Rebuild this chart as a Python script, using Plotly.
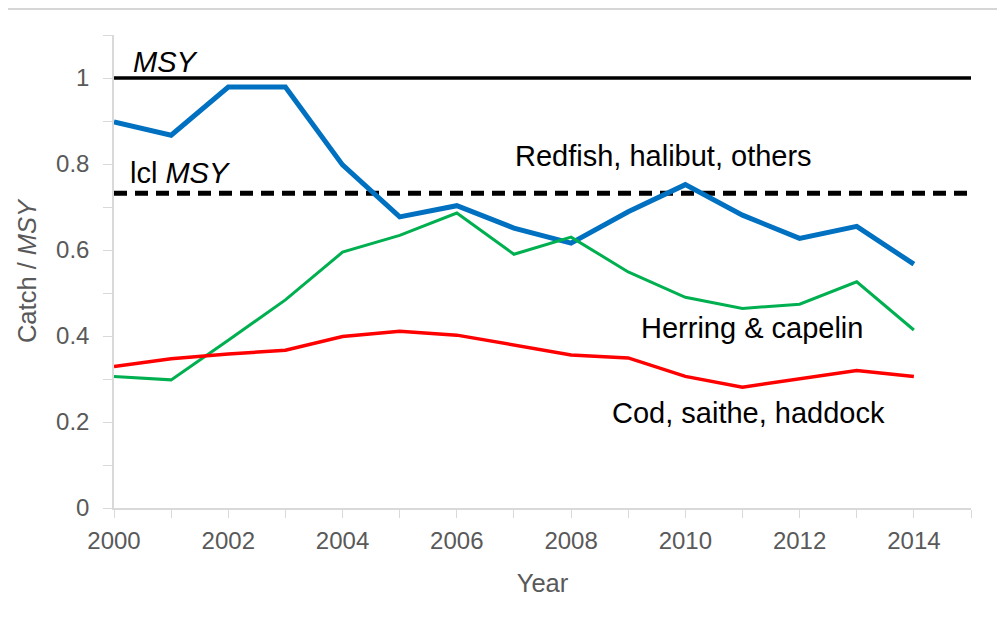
import plotly.graph_objects as go

# data (catch relative to MSY)
years = list(range(2000, 2015))
redfish_halibut_others = [0.898, 0.867, 0.979, 0.979, 0.798, 0.677, 0.703, 0.651, 0.616,
                          0.689, 0.752, 0.681, 0.627, 0.655, 0.567]
herring_capelin = [0.306, 0.298, 0.39, 0.484, 0.595, 0.634, 0.686, 0.59, 0.63,
                   0.549, 0.49, 0.464, 0.474, 0.526, 0.414]
cod_saithe_haddock = [0.329, 0.347, 0.358, 0.367, 0.399, 0.411, 0.402, 0.378, 0.356,
                      0.349, 0.306, 0.281, 0.3, 0.32, 0.306]

msy_level = 1.0
icl_msy_level = 0.732
ref_span = [2000, 2015]

x_tickvals = list(range(2000, 2016))
x_ticktext = [str(y) if y % 2 == 0 and y < 2015 else '' for y in x_tickvals]
y_tickvals = [i / 10 for i in range(0, 12)]
y_ticktext = ['0', '', '0.2', '', '0.4', '', '0.6', '', '0.8', '', '1', '']

FONT = 'Liberation Sans, Arial, sans-serif'
GREY = '#595959'
AXIS_GREY = '#d9d9d9'

fig = go.Figure()

# reference lines
fig.add_trace(go.Scatter(
    x=ref_span, y=[msy_level] * 2, mode='lines',
    line=dict(color='black', width=3.5), hoverinfo='skip'
))
fig.add_trace(go.Scatter(
    x=ref_span, y=[icl_msy_level] * 2, mode='lines',
    line=dict(color='black', width=5, dash='13px,8px'), hoverinfo='skip'
))

# series
fig.add_trace(go.Scatter(
    x=years, y=redfish_halibut_others, mode='lines', name='Redfish, halibut, others',
    line=dict(color='#0070C0', width=5)
))
fig.add_trace(go.Scatter(
    x=years, y=herring_capelin, mode='lines', name='Herring & capelin',
    line=dict(color='#00B050', width=3)
))
fig.add_trace(go.Scatter(
    x=years, y=cod_saithe_haddock, mode='lines', name='Cod, saithe, haddock',
    line=dict(color='#FF0000', width=3.5)
))

# in-chart labels
labels = [
    ('<i>MSY</i>', 2000.30, 1.038, 'left'),
    ('lcl <i>MSY</i>', 2000.24, 0.778, 'left'),
    ('Redfish, halibut, others', 2009.61, 0.818, 'center'),
    ('Herring & capelin', 2011.17, 0.419, 'center'),
    ('Cod, saithe, haddock', 2011.10, 0.221, 'center'),
]
for text, x, y, anchor in labels:
    fig.add_annotation(
        x=x, y=y, text=text, showarrow=False, xanchor=anchor, yanchor='middle',
        font=dict(family=FONT, size=29, color='black')
    )

# thin grey frame line at the very top of the image
fig.add_shape(
    type='line', xref='paper', yref='paper',
    x0=-0.13, x1=1.04, y0=1.055, y1=1.055,
    line=dict(color='#c8c8c8', width=1.5)
)

# page body has an 8px margin, so the figure is sized to fit inside the window
fig.update_layout(
    width=989,
    height=619,
    margin=dict(l=106, r=26, t=27, b=119),
    plot_bgcolor='white',
    paper_bgcolor='white',
    showlegend=False,
    font=dict(family=FONT, color=GREY),
    xaxis=dict(
        range=[2000, 2015],
        tickvals=x_tickvals,
        ticktext=x_ticktext,
        ticks='outside',
        ticklen=8,
        tickcolor=AXIS_GREY,
        showline=True,
        linecolor=AXIS_GREY,
        linewidth=1.5,
        showgrid=False,
        zeroline=False,
        ticklabelstandoff=2,
        tickfont=dict(size=24, color=GREY),
        title=dict(text='Year', font=dict(size=25.5, color=GREY), standoff=22),
    ),
    yaxis=dict(
        range=[0, 1.1],
        tickvals=y_tickvals,
        ticktext=y_ticktext,
        ticks='outside',
        ticklen=9,
        tickcolor=AXIS_GREY,
        showline=True,
        linecolor=AXIS_GREY,
        linewidth=1.5,
        showgrid=False,
        zeroline=False,
        ticklabelstandoff=9,
        tickfont=dict(size=24, color=GREY),
        title=dict(text='Catch / <i>MSY</i>', font=dict(size=25.5, color=GREY), standoff=12),
    ),
)

fig.write_html("out.html")
